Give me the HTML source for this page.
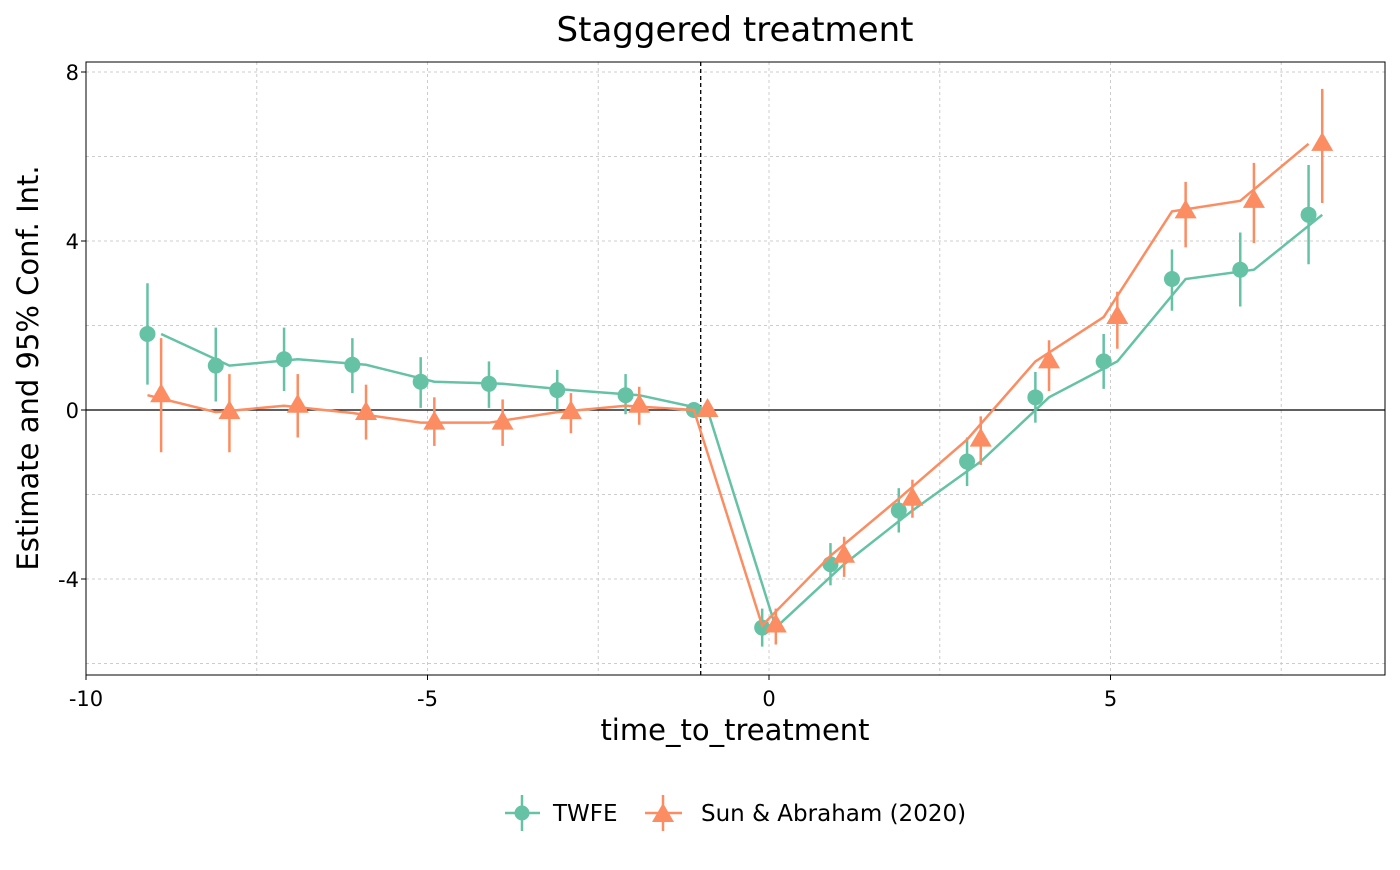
<!DOCTYPE html>
<html><head><meta charset="utf-8"><style>
html,body{margin:0;padding:0;background:#fff;}
svg text{font-family:"DejaVu Sans","Liberation Sans",sans-serif;}
</style></head><body>
<svg id="chart" width="1400" height="865" xmlns="http://www.w3.org/2000/svg">
<text x="735" y="41" font-size="34" text-anchor="middle">Staggered treatment</text>
<g id="grid"></g>
<g id="marks"></g>
<rect x="86" y="62" width="1299" height="613" fill="none" stroke="#000" stroke-width="1"/>
<g id="ticks"></g>
<text x="735" y="740" font-size="29" text-anchor="middle">time_to_treatment</text>
<text transform="translate(38,368) rotate(-90)" font-size="29" text-anchor="middle">Estimate and 95% Conf. Int.</text>
<g>
  <g>
    <line x1="505" y1="813" x2="540" y2="813" stroke="#66c2a5" stroke-width="2.5"/>
    <line x1="522" y1="795" x2="522" y2="831" stroke="#66c2a5" stroke-width="2.5"/>
    <circle cx="522" cy="813" r="7.5" fill="#66c2a5"/>
    <text x="553" y="821" font-size="23">TWFE</text>
  </g>
  <g>
    <line x1="645" y1="813" x2="682" y2="813" stroke="#fc8d62" stroke-width="2.5"/>
    <line x1="663" y1="795" x2="663" y2="831" stroke="#fc8d62" stroke-width="2.5"/>
    <polygon points="663,803 674,822 652,822" fill="#fc8d62"/>
    <text x="701" y="821" font-size="23">Sun &amp; Abraham (2020)</text>
  </g>
</g>
</svg>
<script>
const periods=[-9,-8,-7,-6,-5,-4,-3,-2,-1,0,1,2,3,4,5,6,7,8];
const twfeEst=[1.8,1.05,1.2,1.07,0.67,0.62,0.47,0.35,0,-5.15,-3.65,-2.38,-1.22,0.3,1.15,3.1,3.32,4.62];
const twfeLo=[0.6,0.2,0.45,0.4,0.05,0.05,0,-0.1,0,-5.6,-4.15,-2.9,-1.8,-0.3,0.5,2.35,2.45,3.45];
const twfeHi=[3.0,1.95,1.95,1.7,1.25,1.15,0.95,0.85,0,-4.7,-3.15,-1.85,-0.65,0.9,1.8,3.8,4.2,5.8];
const saEst=[0.35,-0.05,0.1,-0.07,-0.3,-0.3,-0.05,0.1,0,-5.1,-3.45,-2.1,-0.7,1.15,2.2,4.7,4.95,6.3];
const saLo=[-1.0,-1.0,-0.65,-0.7,-0.85,-0.85,-0.55,-0.35,0,-5.55,-3.95,-2.55,-1.3,0.45,1.45,3.85,3.95,4.9];
const saHi=[1.7,0.85,0.85,0.6,0.3,0.25,0.4,0.55,0,-4.7,-3.0,-1.65,-0.15,1.65,2.8,5.4,5.85,7.6];
const xTicks=[-10,-5,0,5];
const xMinor=[-7.5,-2.5,2.5,7.5];
const yTicks=[-4,0,4,8];
const yMinor=[-6,-2,2,6];
const NS="http://www.w3.org/2000/svg";
const X=v=>769+v*68.3, Y=v=>410-v*42.25;
function mk(tag,attrs,parent){const e=document.createElementNS(NS,tag);for(const k in attrs)e.setAttribute(k,attrs[k]);parent.appendChild(e);return e;}
const grid=document.getElementById('grid'),marks=document.getElementById('marks'),ticks=document.getElementById('ticks');
xTicks.concat(xMinor).forEach(v=>{const l=mk('line',{x1:X(v),x2:X(v),y1:62,y2:675,stroke:'#ccc','stroke-dasharray':'3,3'},grid);

});
yTicks.concat(yMinor).forEach(v=>{const l=mk('line',{x1:86,x2:1385,y1:Y(v),y2:Y(v),stroke:'#ccc','stroke-dasharray':'3,3'},grid);

});
xTicks.forEach(v=>{mk('line',{x1:X(v),x2:X(v),y1:675,y2:680,stroke:'#000'},ticks);
const t=mk('text',{x:X(v),y:706,'font-size':21,'text-anchor':'middle'},ticks);t.textContent=v;

});
yTicks.forEach(v=>{mk('line',{x1:81,x2:86,y1:Y(v),y2:Y(v),stroke:'#000'},ticks);
const t=mk('text',{x:79,y:Y(v)+8,'font-size':21,'text-anchor':'end'},ticks);t.textContent=v;

});
const z=mk('line',{x1:86,x2:1385,y1:Y(0),y2:Y(0),stroke:'#000','stroke-width':1.3},marks);


const vl=mk('line',{x1:X(-1),x2:X(-1),y1:62,y2:675,stroke:'#000','stroke-dasharray':'4,3','stroke-width':1.3},marks);


function series(est,lo,hi,color,ptOff,lineOff,shape,name){
  const p=mk('polyline',{points:periods.map((x,i)=>X(x+lineOff)+','+Y(est[i])).join(' '),fill:'none',stroke:color,'stroke-width':2.5},marks);
  
  
  periods.forEach((x,i)=>{
    const cx=X(x+ptOff),cy=Y(est[i]);
    const e=mk('line',{x1:cx,x2:cx,y1:Y(lo[i]),y2:Y(hi[i]),stroke:color,'stroke-width':2.5},marks);
    
    
    let m;
    if(shape==='circle')m=mk('circle',{cx:cx,cy:cy,r:8,fill:color},marks);
    else m=mk('polygon',{points:`${cx},${cy-12} ${cx+11},${cy+7} ${cx-11},${cy+7}`,fill:color},marks);
    
    
  });
}
series(twfeEst,twfeLo,twfeHi,'#66c2a5',-0.1,0.1,'circle','twfe');
series(saEst,saLo,saHi,'#fc8d62',0.1,-0.1,'tri','sun-abraham');
</script>
</body></html>
